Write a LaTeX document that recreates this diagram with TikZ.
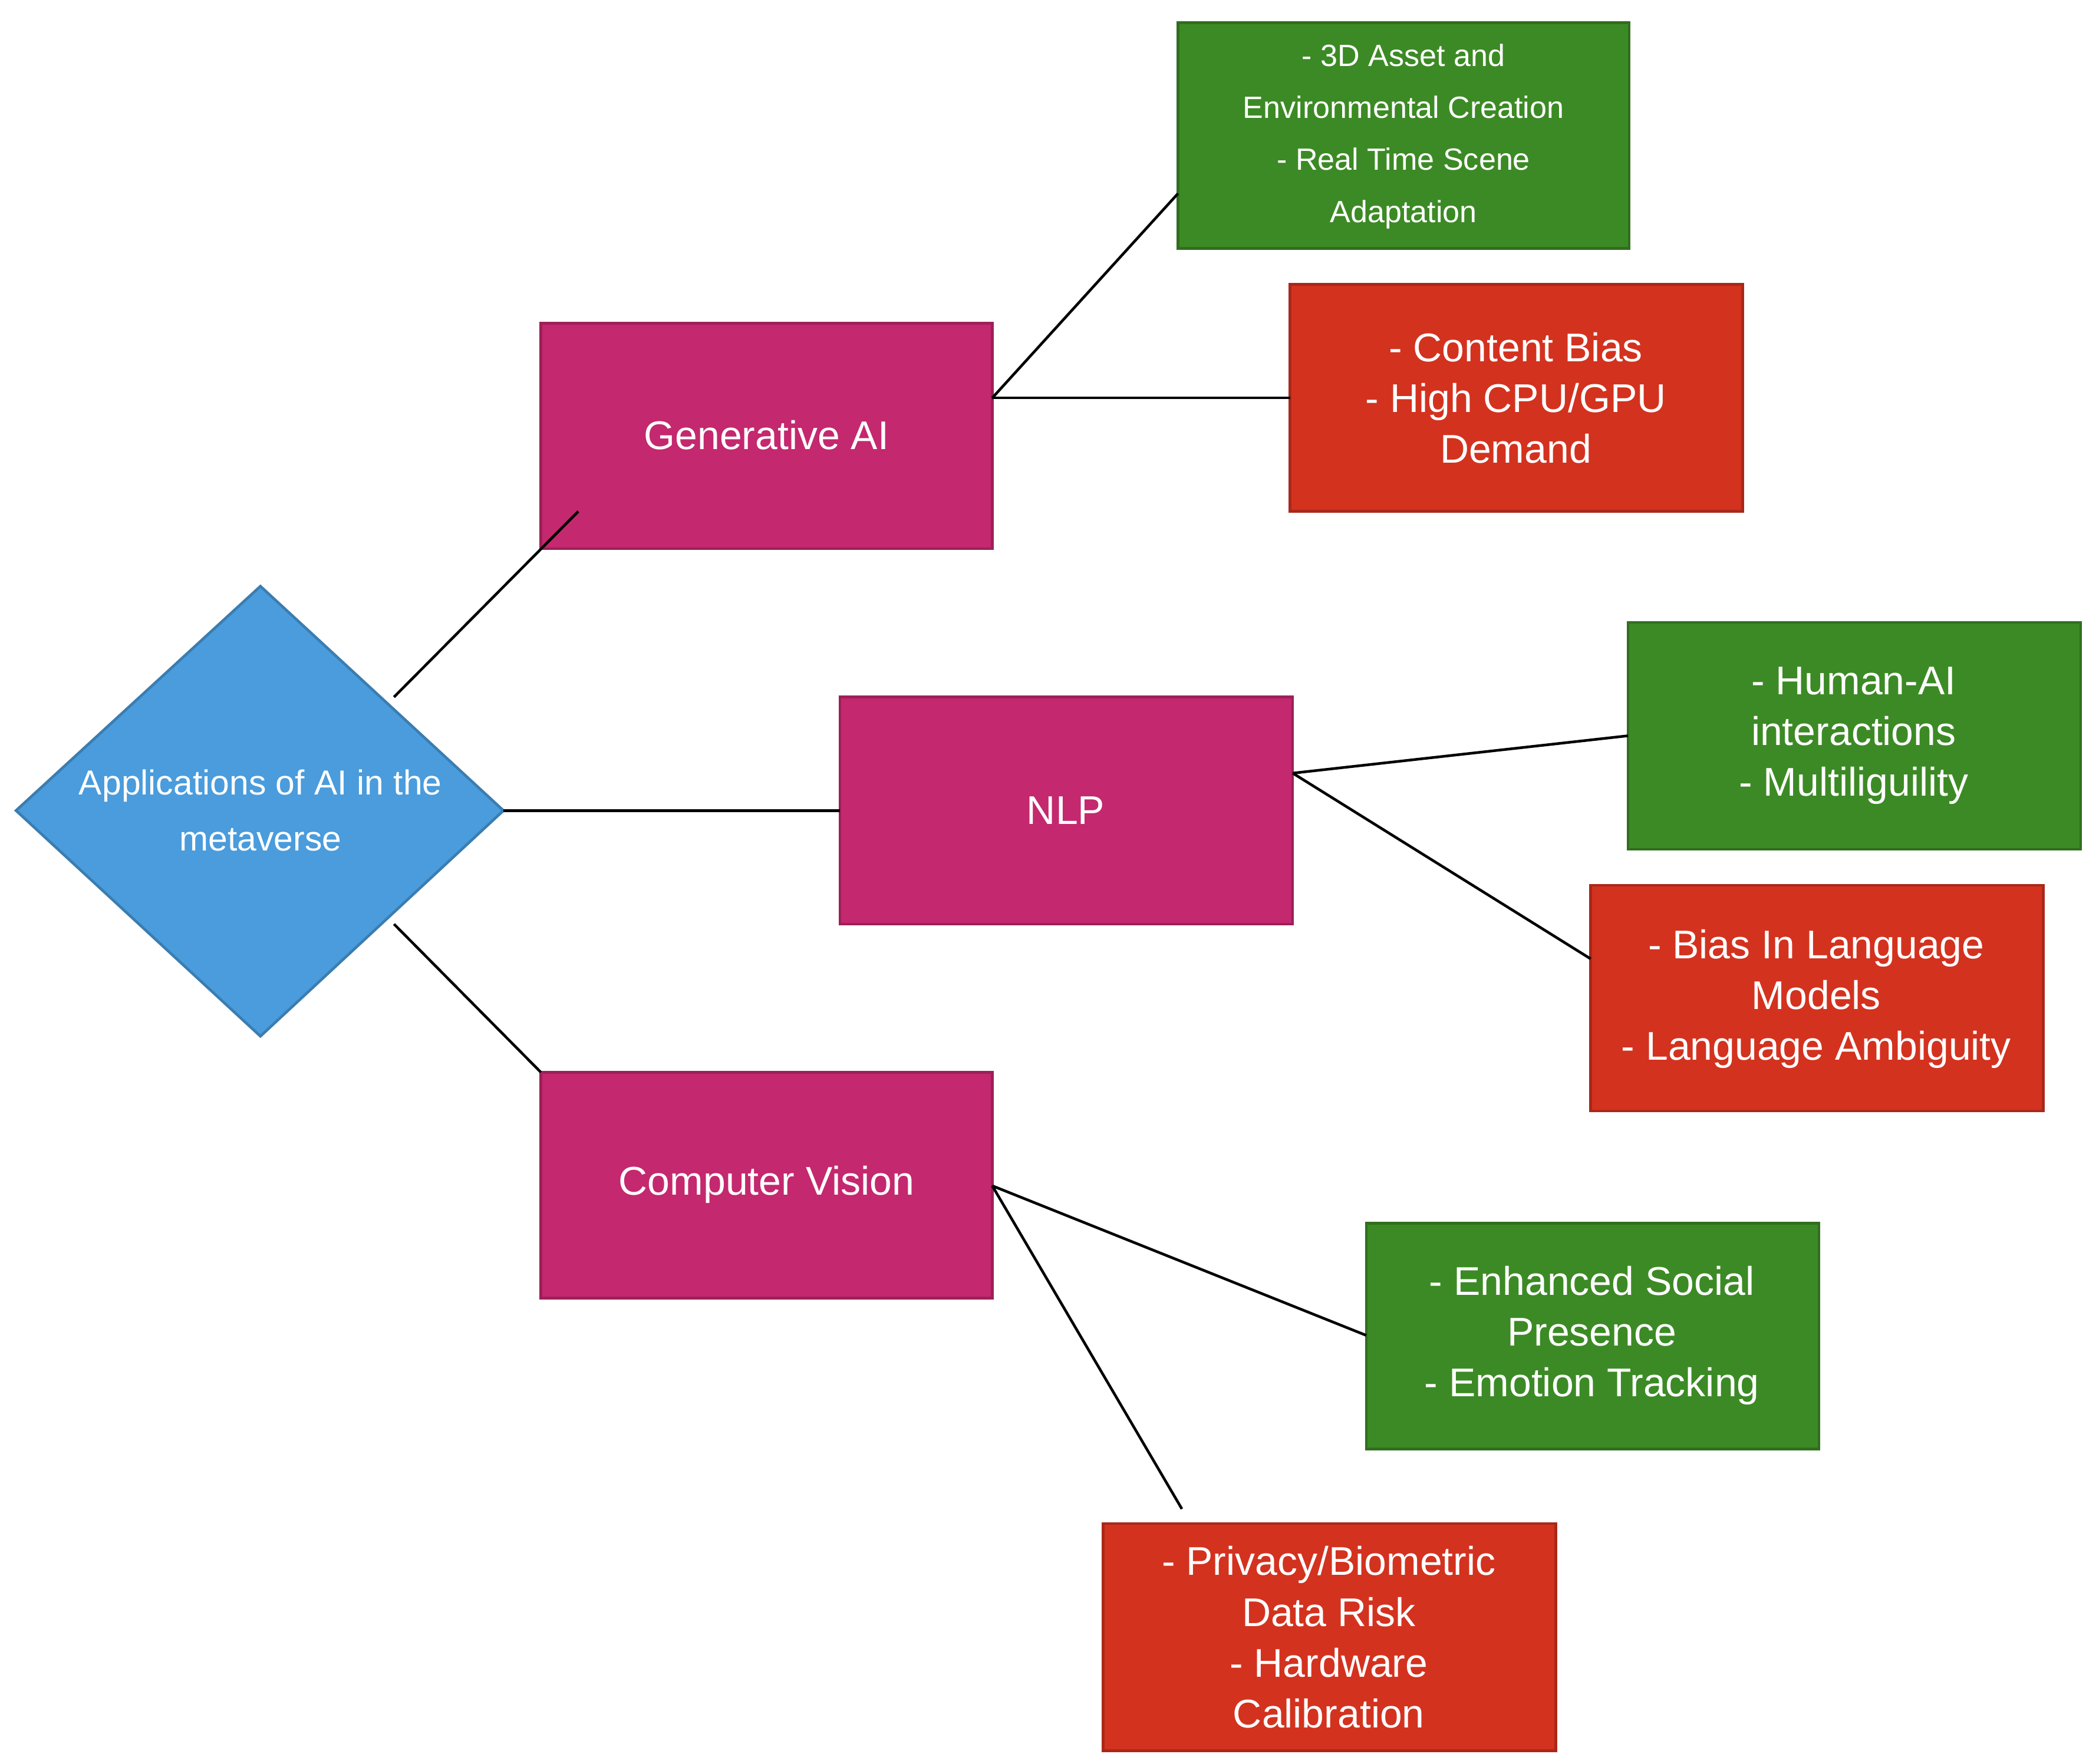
\documentclass[tikz,border=0pt]{standalone}
\usepackage{fontspec}
\setmainfont{Liberation Sans}
\usetikzlibrary{shapes.geometric}
\definecolor{mag}{HTML}{C4286E}
\definecolor{grn}{HTML}{3C8A25}
\definecolor{rd}{HTML}{D3321F}
\definecolor{blu}{HTML}{4A9CDC}
\begin{document}
\begin{tikzpicture}[x=0.5pt,y=-0.5pt,
 box/.style={draw=#1!80!black,fill=#1,line width=1pt},
 lbl/.style={text=white,align=center,font=\fontsize{15}{19}\selectfont},
 small/.style={text=white,align=center,font=\fontsize{11.5}{19.5}\selectfont},
 ln/.style={line width=1pt,black}]
\useasboundingbox (0,0) rectangle (1562,1321);
% boxes
\draw[box=grn] (882,17) rectangle (1220,186);
\node[small] (g1) at (1051,102) {- 3D Asset and\\Environmental Creation\\- Real Time Scene\\Adaptation};
\draw[box=rd] (966,213) rectangle (1305,383);
\node[lbl] (r1) at (1135,298) {- Content Bias\\- High CPU/GPU\\Demand};
\draw[box=mag] (405,242) rectangle (743,411);
\node[lbl] (gen) at (574,326) {Generative AI};
\draw[blu!80!black,fill=blu,line width=1pt] (12,607) -- (195,439) -- (377,607) -- (195,776) -- cycle;
\node[small,font=\fontsize{13}{21}\selectfont] (app) at (195,607) {Applications of AI in the\\metaverse};
\draw[box=mag] (629,522) rectangle (968,692);
\node[lbl] (nlp) at (798,607) {NLP};
\draw[box=grn] (1219,466) rectangle (1558,636);
\node[lbl] (g2) at (1388,551) {- Human-AI\\interactions\\- Multiliguility};
\draw[box=rd] (1191,663) rectangle (1530,832);
\node[lbl] (r2) at (1360,748) {- Bias In Language\\Models\\- Language Ambiguity};
\draw[box=mag] (405,803) rectangle (743,972);
\node[lbl] (cv) at (574,887) {Computer Vision};
\draw[box=grn] (1023,916) rectangle (1362,1085);
\node[lbl] (g3) at (1192,1000) {- Enhanced Social\\Presence\\- Emotion Tracking};
\draw[box=rd] (826,1141) rectangle (1165,1311);
\node[lbl] (r3) at (995,1226) {- Privacy/Biometric\\Data Risk\\- Hardware\\Calibration};
% connector end points
\coordinate (a1) at (295,522); \coordinate (a2) at (433,383);
\coordinate (b1) at (377,607); \coordinate (b2) at (629,607);
\coordinate (c1) at (295,692); \coordinate (c2) at (405,803);
\coordinate (ge) at (743,298); \coordinate (g1l) at (882,145); \coordinate (r1l) at (966,298);
\coordinate (ne) at (968,579); \coordinate (g2l) at (1219,551); \coordinate (r2l) at (1191,718);
\coordinate (ce) at (743,888); \coordinate (g3l) at (1023,1000); \coordinate (r3t) at (885,1130);
\draw[ln] (a1) -- (a2);
\draw[ln] (b1) -- (b2);
\draw[ln] (c1) -- (c2);
\draw[ln] (ge) -- (g1l);
\draw[ln] (ge) -- (r1l);
\draw[ln] (ne) -- (g2l);
\draw[ln] (ne) -- (r2l);
\draw[ln] (ce) -- (g3l);
\draw[ln] (ce) -- (r3t);
\end{tikzpicture}
\end{document}
